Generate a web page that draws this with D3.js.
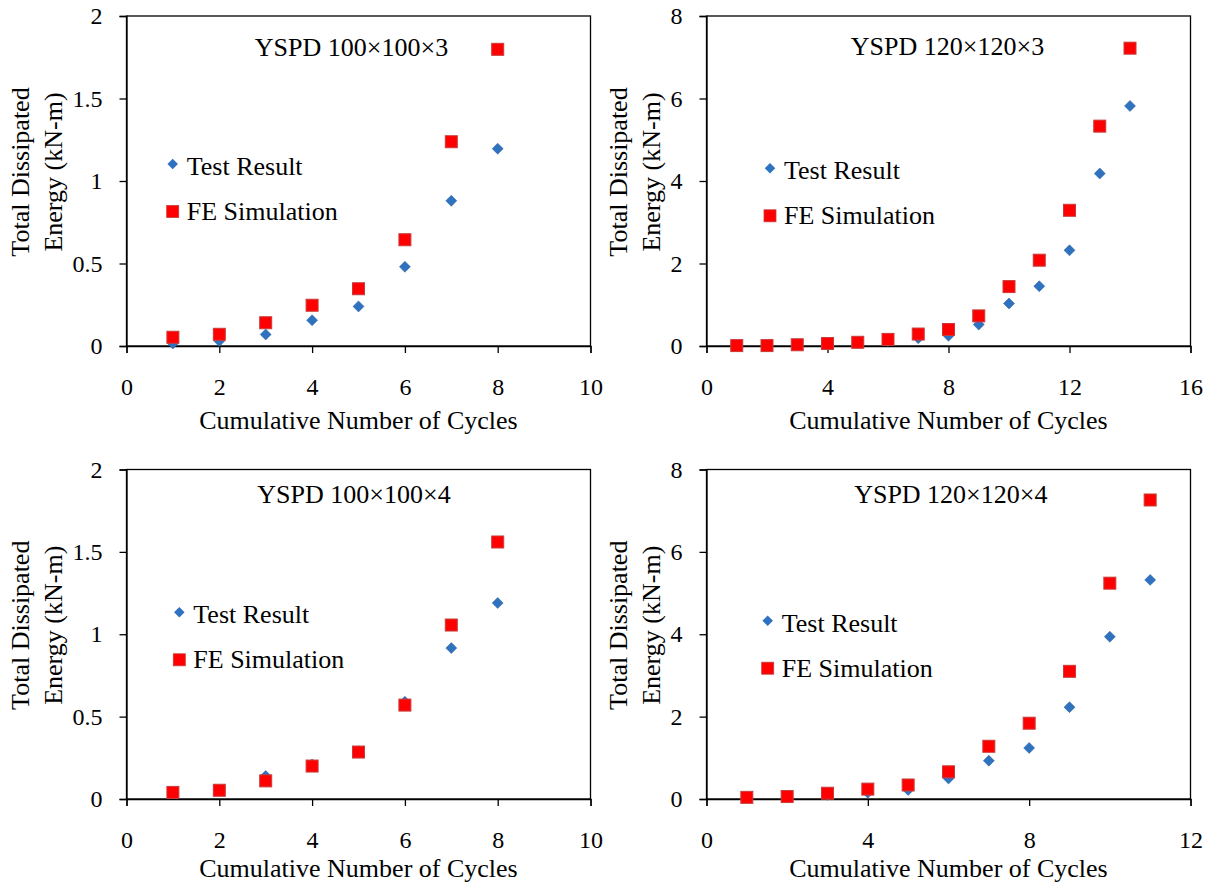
<!DOCTYPE html>
<html><head><meta charset="utf-8">
<script src="https://cdn.jsdelivr.net/npm/d3@7"></script>
<style>body{margin:0;background:#fff}svg{display:block}text{font-family:"Liberation Serif","Times New Roman",serif;fill:#000}</style>
</head><body><svg id="c" width="1213" height="883" font-family="Liberation Serif"></svg>
<script>
const titles = ["YSPD 100×100×3","YSPD 120×120×3","YSPD 100×100×4","YSPD 120×120×4"];
const xMaxes = [10,16,10,12];
const yMaxes = [2,8,2,8];
const xTickStep = [2,4,2,4];
const yTickStep = [0.5,2,0.5,2];
const test1 = [0.015,0.03,0.07,0.156,0.24,0.48,0.88,1.196];
const fe1   = [0.053,0.071,0.141,0.247,0.347,0.644,1.238,1.798];
const test2 = [0.01,0.02,0.03,0.05,0.07,0.12,0.19,0.25,0.52,1.03,1.45,2.32,4.18,5.82];
const fe2   = [0.01,0.01,0.03,0.06,0.09,0.16,0.29,0.40,0.73,1.44,2.08,3.29,5.33,7.22];
const test3 = [0.04,0.05,0.14,0.21,0.29,0.59,0.916,1.19];
const fe3   = [0.04,0.053,0.11,0.20,0.285,0.57,1.056,1.56];
const test4 = [0.03,0.05,0.10,0.15,0.22,0.50,0.93,1.24,2.23,3.94,5.32];
const fe4   = [0.04,0.06,0.14,0.24,0.34,0.66,1.28,1.84,3.10,5.24,7.26];
const testSeries = [test1,test2,test3,test4];
const feSeries = [fe1,fe2,fe3,fe4];

const panels = [
  {x0:126.5,x1:590.5,y0:16,y1:346,yt:[29,62],leg:[172.7,164],tc:351.5,ty:56,xtb:83},
  {x0:706.5,x1:1190.5,y0:16,y1:346,yt:[627,660],leg:[770,168.3],tc:947.5,ty:55,xtb:83},
  {x0:126.5,x1:590.5,y0:469.5,y1:799,yt:[29,62],leg:[179.3,612.3],tc:354,ty:503,xtb:78},
  {x0:706.5,x1:1190.5,y0:469.5,y1:799,yt:[627,660],leg:[767.7,620.7],tc:950.8,ty:503,xtb:78}
];
const blue = "#2f72bf", red = "#ff0000", redStroke="#c83c3c";
const svg = d3.select("#c");

panels.forEach((p,i)=>{
  const g = svg.append("g");
  const x = d3.scaleLinear().domain([0,xMaxes[i]]).range([p.x0,p.x1]);
  const y = d3.scaleLinear().domain([0,yMaxes[i]]).range([p.y1,p.y0]);
  g.append("rect").attr("x",p.x0).attr("y",p.y0).attr("width",p.x1-p.x0).attr("height",p.y1-p.y0)
    .attr("fill","none").attr("stroke","#000").attr("stroke-width",1.3);
  const xt = d3.range(0,xMaxes[i]+0.001,xTickStep[i]);
  const yt = d3.range(0,yMaxes[i]+0.001,yTickStep[i]);
  const xa = g.append("g").attr("transform",`translate(0,${p.y1})`)
    .call(d3.axisBottom(x).tickValues(xt).tickSize(7).tickPadding(25).tickFormat(d3.format("d")));
  xa.attr("font-family",null).attr("font-size",null);
  xa.select(".domain").attr("stroke-width",1.3);
  xa.selectAll("line").attr("stroke-width",1.3);
  xa.selectAll("text").style("font-size","24px");
  const ya = g.append("g").attr("transform",`translate(${p.x0},0)`)
    .call(d3.axisLeft(y).tickValues(yt).tickSize(7).tickPadding(17).tickFormat(d=>String(+d.toFixed(1))));
  ya.attr("font-family",null).attr("font-size",null);
  ya.select(".domain").attr("stroke-width",1.3);
  ya.selectAll("line").attr("stroke-width",1.3);
  ya.selectAll("text").style("font-size","24px");
  g.append("text").attr("x",(p.x0+p.x1)/2).attr("y",p.y1+p.xtb).attr("text-anchor","middle")
    .style("font-size","26px").text("Cumulative Number of Cycles");
  const cy=(p.y0+p.y1)/2 - 9;
  g.append("text").attr("transform",`translate(${p.yt[0]},${cy}) rotate(-90)`).attr("text-anchor","middle")
    .style("font-size","26px").text("Total Dissipated");
  g.append("text").attr("transform",`translate(${p.yt[1]},${cy}) rotate(-90)`).attr("text-anchor","middle")
    .style("font-size","26px").text("Energy (kN-m)");
  g.append("text").attr("x",p.tc).attr("y",p.ty).attr("text-anchor","middle").style("font-size","26px").text(titles[i]);
  const t = testSeries[i], f = feSeries[i];
  g.selectAll(".t").data(t).enter().append("path")
    .attr("d",d3.symbol().type(d3.symbolSquare).size(60))
    .attr("transform",(d,j)=>`translate(${x(j+1)},${y(d)}) rotate(45)`)
    .attr("fill",blue).attr("stroke","#2a5f9e").attr("stroke-width",0.5);
  g.selectAll(".f").data(f).enter().append("rect")
    .attr("x",(d,j)=>x(j+1)-6).attr("y",d=>y(d)-6).attr("width",12).attr("height",12)
    .attr("fill",red).attr("stroke",redStroke).attr("stroke-width",1);
  const [lx,ly]=p.leg;
  g.append("path").attr("d",d3.symbol().type(d3.symbolSquare).size(55)).attr("transform",`translate(${lx},${ly}) rotate(45)`)
    .attr("fill",blue);
  g.append("text").attr("x",lx+14).attr("y",ly+11).style("font-size","26px").text("Test Result");
  g.append("rect").attr("x",lx-6).attr("y",ly+41.5).attr("width",12).attr("height",12).attr("fill",red).attr("stroke",redStroke).attr("stroke-width",0.8);
  g.append("text").attr("x",lx+14).attr("y",ly+56).style("font-size","26px").text("FE Simulation");
});
</script></body></html>
